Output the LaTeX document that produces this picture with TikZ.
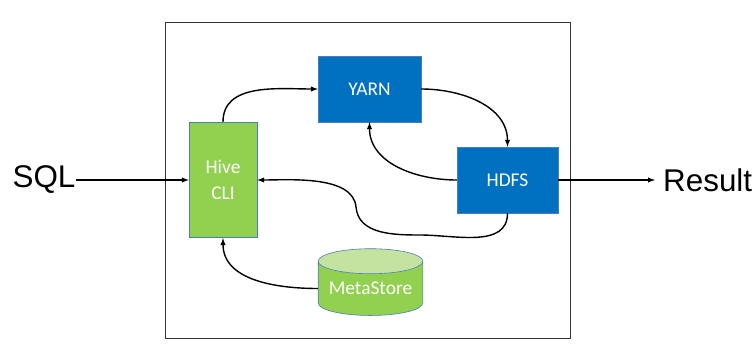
\documentclass[tikz,border=0pt]{standalone}
\usepackage{fontspec}
\setmainfont{Carlito}
\newfontfamily\arialfont{Liberation Sans}
\usetikzlibrary{shapes.geometric}
\definecolor{hivegreen}{HTML}{92D050}
\definecolor{lightgreen}{HTML}{C5E3A0}
\definecolor{yarnblue}{HTML}{0070C0}
\definecolor{edgeblue}{HTML}{4A7EBB}

\begin{document}
\begin{tikzpicture}[x=1bp, y=1bp,
        box/.style={draw=edgeblue, line width=0.6bp, text=white, font=\fontsize{19.5}{26}\selectfont, align=center, inner sep=0pt},
        link/.style={->, >=latex, line width=1.4bp},
        bigtext/.style={font=\arialfont\fontsize{31.5}{36}\selectfont, inner sep=0pt}]

        \useasboundingbox (0,0) rectangle (755,345);

        % Outer frame
        \draw[line width=0.8bp, black!80] (165,7) rectangle (570,323);

        % Boxes
        \node (hive) at (223,165) [box, fill=hivegreen, minimum width=68, minimum height=116] {Hive\\CLI};
        \node (yarn) at (369.5,256) [box, fill=yarnblue, minimum width=103, minimum height=66] {YARN};
        \node (hdfs) at (507.5,165) [box, fill=yarnblue, minimum width=101, minimum height=66] {HDFS};
        \node (meta) at (370.5,56.5) [box, cylinder, shape border rotate=90, aspect=0.3,
              cylinder uses custom fill, cylinder body fill=hivegreen, cylinder end fill=lightgreen,
              minimum width=105, minimum height=67] {MetaStore};

        % Input and output
        \node (sql) at (44,165) [bigtext] {SQL};
        \node (result) at (663,165) [bigtext, anchor=west] {Result};
        \coordinate (resin) at (655,165);
        \coordinate (dip) at (420,110);
        \coordinate (bend) at (356,138);

        % Arrows
        \draw[link] (sql.east) -- (hive.west);
        \draw[link] (hdfs.east) -- (resin);
        \draw[link] (hive.north) to[out=90, in=180] (yarn.west);
        \draw[link] (yarn.east) to[out=0, in=90] (hdfs.north);
        \draw[link] (hdfs.west) to[out=180, in=-90] (yarn.south);
        \draw[link] (hdfs.south) to[out=-90, in=0] (dip) to[out=180, in=-85] (bend)
              to[out=95, in=0, looseness=0.8] (hive.east);
        \draw[link] (meta.west) to[out=180, in=-90] (hive.south);

    \end{tikzpicture}
\end{document}
